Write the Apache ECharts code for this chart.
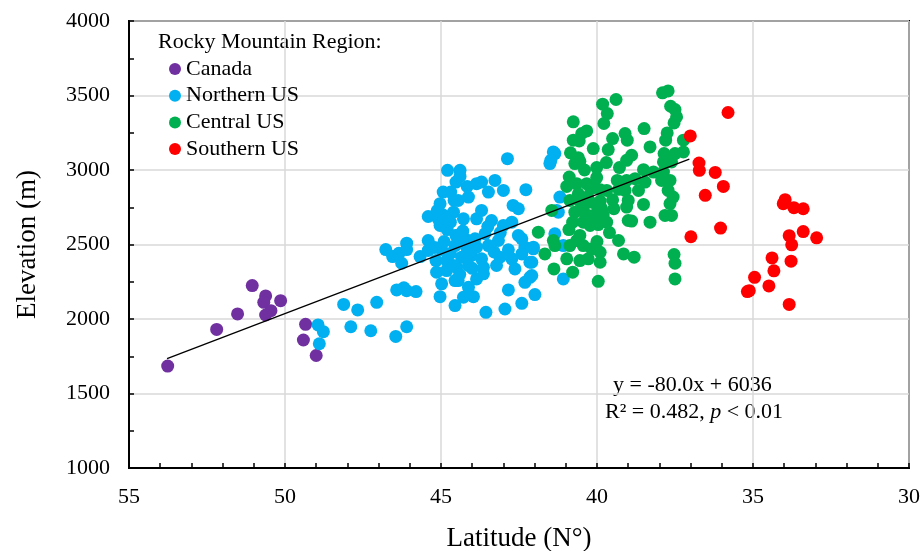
<!DOCTYPE html>
<html>
<head>
<meta charset="utf-8">
<script src="https://cdn.jsdelivr.net/npm/echarts@6/dist/echarts.min.js"></script>
<style>
html,body{margin:0;padding:0;background:#fff;}
#chart{width:921px;height:551px;}
</style>
</head>
<body>
<div id="chart"></div>
<script>
var xTicks = [55, 50, 45, 40, 35, 30];
var yTicks = [1000, 1500, 2000, 2500, 3000, 3500, 4000];
var seriesNames = ["Canada", "Northern US", "Central US", "Southern US"];

var canada = [[53.76,1684],[52.19,1930],[51.52,2034],[51.05,2224],[50.62,2155],[50.68,2112],[50.45,2056],[50.62,2027],[50.14,2123],[49.34,1964],[49.41,1859],[49.0,1755]];

var northernUS = [[48.94,1960],[48.77,1915],[48.9,1834],[48.12,2098],[47.67,2061],[47.89,1948],[47.25,1921],[46.45,1883],[46.1,1948],[47.06,2112],[46.42,2195],[46.19,2209],[46.1,2190],[45.8,2184],
[46.77,2466],[46.55,2419],[46.35,2441],[46.26,2374],[46.1,2509],[46.1,2466],[45.67,2419],[45.41,2460],[45.41,2527],[45.41,2688],[45.12,2728],[45.09,2672],[45.03,2628],[45.03,2774],[44.93,2852],[44.79,2998],[44.69,2852],[44.58,2796],[44.52,2919],[44.52,2561],[44.98,2466],[45.16,2392],[44.82,2392],[45.14,2314],[44.82,2325],[44.5,2347],[44.98,2236],[44.55,2258],[45.03,2150],[44.55,2090],
[42.87,3076],[41.35,3110],[41.51,3043],[44.39,2998],[44.39,2957],[44.16,2890],[43.86,2908],[43.7,2919],[43.27,2930],[43.48,2852],[43.0,2863],[42.28,2868],[44.45,2796],[44.12,2818],[44.6,2717],[44.28,2672],[43.86,2672],[43.7,2729],[43.38,2661],[42.69,2762],[42.52,2740],[43.0,2628],[42.73,2650],[44.5,2561],[44.23,2538],[43.91,2538],[43.59,2572],[43.16,2527],[42.52,2561],[42.41,2538],[44.55,2493],[44.18,2482],[43.86,2482],[43.48,2493],[42.84,2464],[42.31,2482],[42.04,2482],[44.34,2415],[44.02,2426],[43.7,2404],[43.11,2415],[42.73,2404],[42.41,2437],[44.6,2359],[44.12,2359],[43.64,2347],[43.22,2359],[42.63,2336],[42.15,2381],[43.64,2303],[44.45,2258],[43.86,2269],[42.31,2246],[42.15,2280],[44.12,2213],[42.84,2195],[44.28,2146],[43.96,2150],[41.99,2164],[42.41,2105],[42.95,2067],[43.56,2045],[41.08,2269],[41.35,2572],[41.19,2818],[41.4,3121],[41.48,3065],[41.24,2717],[41.29,2729],[41.08,2493],[42.04,2471],[42.09,2381],[42.09,2292],
[44.9,2520],[44.7,2440],[44.4,2300],[43.3,2450],[44.0,2340],[45.2,2480],[44.8,2600],[43.5,2620],[44.3,2590],[43.1,2580],[44.95,2700],[44.7,2650]];

var centralUS = [[39.39,3473],[39.82,3442],[39.67,3379],[39.78,3312],[40.76,3323],[40.33,3262],[40.49,3245],[40.76,3200],[40.57,3195],[39.5,3211],[39.1,3245],[39.03,3200],[40.12,3144],[39.64,3137],[40.85,3115],[40.6,3083],[40.55,3058],[40.71,3043],[40.01,3016],[39.28,3016],[39.05,3065],[40.89,2953],[40.01,2949],[39.35,2930],[39.05,2930],[40.97,2890],[40.65,2908],[40.33,2908],[40.2,2875],[39.9,2868],[39.69,2863],[39.1,2863],[40.87,2796],[40.55,2791],[40.22,2785],[39.9,2791],[39.0,2796],[40.44,2751],[39.85,2740],[39.46,2740],[39.05,2751],[40.71,2717],[40.38,2706],[40.12,2695],[40.78,2650],[40.44,2650],[40.22,2628],[39.96,2634],[39.69,2650],[39.0,2661],[41.88,2583],[41.45,2729],[40.55,2561],[40.65,2527],[41.4,2527],[41.35,2493],[40.87,2493],[40.44,2493],[40.17,2471],[39.9,2448],[41.67,2437],[40.97,2404],[40.55,2392],[40.28,2404],[39.9,2381],[39.31,2527],[39.15,2437],[41.38,2336],[40.78,2314],[39.96,2253],
[37.9,3518],[37.72,3531],[37.64,3428],[37.5,3406],[37.45,3356],[37.53,3316],[38.49,3278],[37.75,3249],[37.8,3200],[37.23,3200],[38.3,3155],[38.89,3099],[37.85,3110],[37.5,3110],[37.23,3121],[37.87,3054],[37.61,3054],[38.51,3002],[38.19,2986],[37.87,2986],[38.78,2942],[38.46,2919],[37.93,2930],[37.66,2930],[38.67,2863],[37.72,2863],[37.56,2818],[37.66,2774],[38.51,2769],[37.82,2695],[37.61,2695],[38.89,2657],[38.3,2650],[38.81,2415],[37.53,2433],[37.5,2374],[37.5,2269],
[40.3,2820],[40.0,2760],[39.8,2700],[40.6,2840],[40.1,2900],[39.5,2800],[39.3,2870],[40.4,3000],[39.7,3050],[40.9,2600],[40.0,2520],[39.6,2580]];

var southernUS = [[35.8,3386],[37.01,3229],[36.73,3047],[36.72,2998],[36.21,2984],[35.95,2890],[36.53,2830],[36.99,2552],[36.04,2610],[33.97,2801],[34.03,2774],[33.69,2747],[33.39,2740],[33.39,2587],[32.96,2545],[33.84,2559],[33.76,2498],[34.39,2410],[33.78,2388],[34.33,2323],[34.95,2280],[34.49,2222],[35.12,2190],[35.18,2184],[33.84,2098]];

var fitSlope = -80.0, fitIntercept = 6036;
var fitRange = [53.78, 37.04];
var fitLine = fitRange.map(function (x) { return [x, fitSlope * x + fitIntercept]; });

var colors = ["#7030A0", "#00B0F0", "#00B050", "#FF0000"];
var FONT = "Liberation Serif";

var chart = echarts.init(document.getElementById('chart'), null, {renderer: 'canvas'});
function sc(name, data, color) {
  return {
    name: name, type: 'scatter', data: data, symbol: 'circle', symbolSize: 13,
    itemStyle: {color: color, opacity: 1}, emphasis: {disabled: true}, animation: false
  };
}
chart.setOption({
  animation: false,
  backgroundColor: '#fff',
  grid: {left: 129, right: 12, top: 21, bottom: 83, show: true, borderColor: '#000', borderWidth: 2, backgroundColor: 'transparent', containLabel: false, outerBoundsMode: 'none'},
  legend: {
    data: seriesNames, orient: 'vertical', left: 164, top: 53,
    itemWidth: 12, itemHeight: 12, itemGap: 4.7, icon: 'circle',
    textStyle: {fontFamily: FONT, fontSize: 22, color: '#000', lineHeight: 20},
    selectedMode: false
  },
  xAxis: {
    type: 'value', min: 30, max: 55, interval: 5, inverse: true,
    name: 'Latitude (N°)', nameLocation: 'middle', nameGap: 57,
    nameTextStyle: {fontFamily: FONT, fontSize: 27, color: '#000'},
    axisLine: {show: true, onZero: false, lineStyle: {color: '#000', width: 2}},
    axisTick: {show: true, inside: true, length: 5, lineStyle: {color: '#000', width: 1.5}},
    minorTick: {show: true, splitNumber: 5, length: 5, lineStyle: {color: '#000', width: 1.5}},
    axisLabel: {fontFamily: FONT, fontSize: 22, color: '#000', margin: 18, formatter: function (v) { return String(v); }},
    splitLine: {show: true, lineStyle: {color: '#d9d9d9', width: 1.5}}
  },
  yAxis: {
    type: 'value', min: 1000, max: 4000, interval: 500,
    name: 'Elevation (m)', nameLocation: 'middle', nameGap: 88,
    nameTextStyle: {fontFamily: FONT, fontSize: 27, color: '#000'},
    axisLine: {show: true, onZero: false, lineStyle: {color: '#000', width: 2}},
    axisTick: {show: true, inside: true, length: 5, lineStyle: {color: '#000', width: 1.5}},
    minorTick: {show: true, splitNumber: 2, length: 5, lineStyle: {color: '#000', width: 1.5}},
    axisLabel: {fontFamily: FONT, fontSize: 22, color: '#000', margin: 19, formatter: function (v) { return String(v); }},
    splitLine: {show: true, lineStyle: {color: '#d9d9d9', width: 1.5}}
  },
  graphic: [
    {type: 'text', left: 158, top: 31, style: {text: 'Rocky Mountain Region:', fontFamily: FONT, fontSize: 22, fill: '#000'}},
    {type: 'text', left: 613, top: 374, style: {text: 'y = -80.0x + 6036', fontFamily: FONT, fontSize: 22, fill: '#000'}},
    {type: 'text', left: 605, top: 401, style: {
      text: '{n|R² = 0.482, }{i|p}{n| < 0.01}',
      rich: {
        n: {fontFamily: FONT, fontSize: 22, fill: '#000'},
        i: {fontFamily: FONT, fontSize: 22, fontStyle: 'italic', fill: '#000'}
      }
    }}
  ],
  series: [
    sc(seriesNames[0], canada, colors[0]),
    sc(seriesNames[1], northernUS, colors[1]),
    sc(seriesNames[2], centralUS, colors[2]),
    sc(seriesNames[3], southernUS, colors[3]),
    {
      name: 'fit', type: 'line', data: fitLine, symbol: 'none', silent: true,
      lineStyle: {color: '#000', width: 1.3}, z: 5, animation: false
    }
  ]
});
</script>
</body>
</html>
